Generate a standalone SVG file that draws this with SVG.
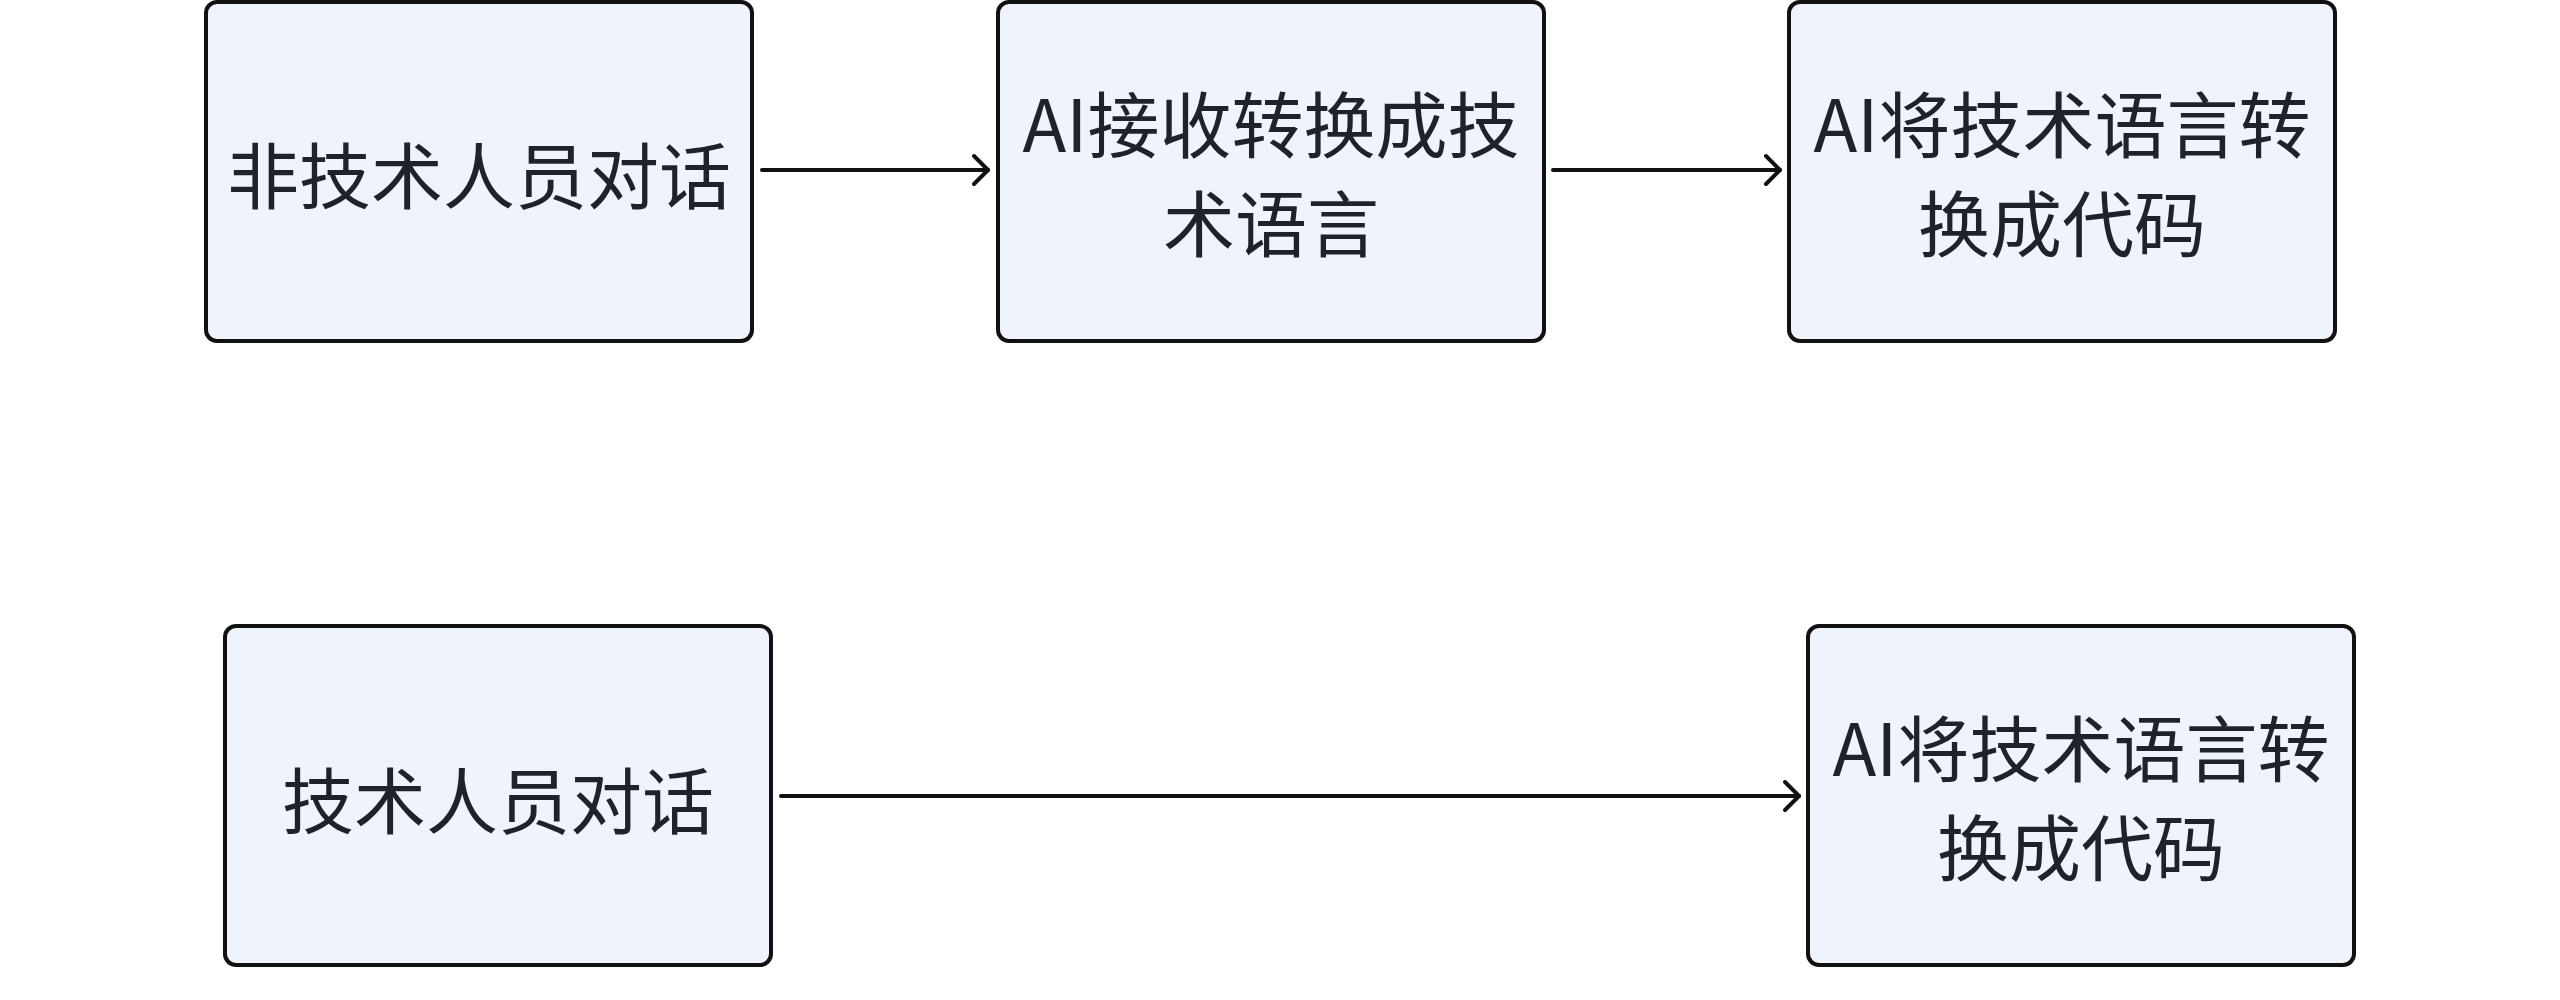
<svg xmlns="http://www.w3.org/2000/svg" width="2560" height="1000" viewBox="0 0 2560 1000">
<style>
.box{fill:#EEF3FC;stroke:#111111;stroke-width:4}
.lbl{font-family:"Noto Sans CJK SC","Noto Sans",sans-serif;font-size:72px;font-weight:400;fill:#1F2329;text-anchor:middle;dominant-baseline:central}
.edge{fill:none;stroke:#111111;stroke-width:4;stroke-linecap:round}
</style>
<defs>
<marker id="arr" markerUnits="userSpaceOnUse" markerWidth="24" markerHeight="34" refX="18" refY="17" orient="auto" viewBox="0 0 24 34">
<path d="M4,3 L18,17 L4,31" fill="none" stroke="#111111" stroke-width="4" stroke-linecap="round" stroke-linejoin="round"/>
</marker>
</defs>
<rect width="2560" height="1000" fill="#FFFFFF"/>
<g id="edges">
<line class="edge" x1="762" y1="170" x2="988" y2="170" marker-end="url(#arr)"/>
<line class="edge" x1="1553" y1="170" x2="1780" y2="170" marker-end="url(#arr)"/>
<line class="edge" x1="781" y1="796" x2="1799" y2="796" marker-end="url(#arr)"/>
</g>
<g id="n1">
<rect class="box" x="206" y="2" width="546" height="339" rx="11"/>
<text class="lbl" x="479" y="171">非技术人员对话</text>
</g>
<g id="n2">
<rect class="box" x="998" y="2" width="546" height="339" rx="11"/>
<text class="lbl" x="1271" y="120">AI接收转换成技</text>
<text class="lbl" x="1271" y="219">术语言</text>
</g>
<g id="n3">
<rect class="box" x="1789" y="2" width="546" height="339" rx="11"/>
<text class="lbl" x="2062" y="120">AI将技术语言转</text>
<text class="lbl" x="2062" y="219">换成代码</text>
</g>
<g id="n4">
<rect class="box" x="225" y="626" width="546" height="339" rx="11"/>
<text class="lbl" x="498" y="796">技术人员对话</text>
</g>
<g id="n5">
<rect class="box" x="1808" y="626" width="546" height="339" rx="11"/>
<text class="lbl" x="2081" y="744">AI将技术语言转</text>
<text class="lbl" x="2081" y="843">换成代码</text>
</g>
</svg>
